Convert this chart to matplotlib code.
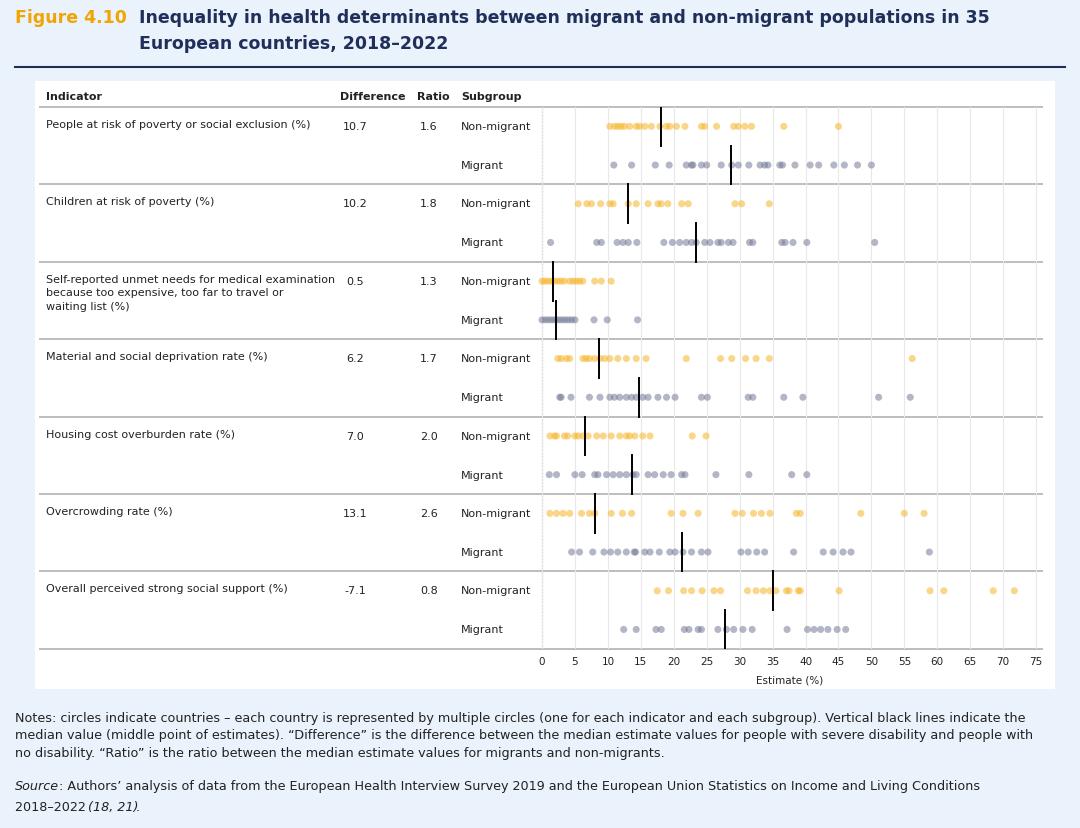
import matplotlib.pyplot as plt
import matplotlib.patches as mpatches
from matplotlib.lines import Line2D

# data
indicators = ['People at risk of poverty or social exclusion (%)',
              'Children at risk of poverty (%)',
              'Self-reported unmet needs for medical examination\nbecause too expensive, too far to travel or\nwaiting list (%)',
              'Material and social deprivation rate (%)',
              'Housing cost overburden rate (%)',
              'Overcrowding rate (%)',
              'Overall perceived strong social support (%)']
differences = ['10.7', '10.2', '0.5', '6.2', '7.0', '13.1', '-7.1']
ratios = ['1.6', '1.8', '1.3', '1.7', '2.0', '2.6', '0.8']

non_migrant = [
    [10.3, 11.0, 11.5, 12.0, 12.5, 13.3, 14.3, 14.8, 15.6, 16.6, 17.9, 18.9, 19.4, 20.4, 21.7, 24.2, 24.7, 26.5, 29.1, 29.8, 30.8, 31.8, 36.7, 45.0],
    [5.5, 6.8, 7.5, 8.9, 10.3, 10.8, 13.1, 14.3, 16.1, 17.6, 18.1, 19.1, 21.2, 22.2, 29.3, 30.3, 34.5],
    [0.0, 0.4, 0.9, 1.4, 1.9, 2.4, 2.9, 3.4, 4.2, 4.7, 5.2, 5.7, 6.2, 8.0, 9.0, 10.5],
    [2.4, 2.9, 3.7, 4.2, 6.2, 6.7, 7.2, 8.0, 8.8, 9.5, 10.3, 11.5, 12.8, 14.3, 15.8, 21.9, 27.1, 28.8, 30.9, 32.5, 34.5, 56.2],
    [1.2, 1.9, 2.2, 3.4, 3.9, 5.0, 5.5, 6.2, 7.0, 8.3, 9.3, 10.5, 11.8, 12.8, 13.3, 14.1, 15.3, 16.4, 22.8, 24.9],
    [1.2, 2.2, 3.2, 4.2, 6.0, 7.2, 8.0, 10.5, 12.2, 13.6, 19.6, 21.4, 23.7, 29.3, 30.4, 32.1, 33.3, 34.6, 38.6, 39.2, 48.4, 55.0, 58.0],
    [17.5, 19.2, 21.5, 22.7, 24.3, 26.1, 27.1, 31.2, 32.5, 33.6, 34.6, 35.5, 37.1, 37.5, 38.9, 39.2, 45.1, 58.9, 61.0, 68.5, 71.7],
]
migrant = [
    [10.9, 13.6, 17.2, 19.3, 21.9, 22.7, 22.9, 24.2, 25.0, 27.2, 28.8, 29.8, 31.4, 33.1, 33.8, 34.3, 36.1, 36.5, 38.4, 40.7, 42.0, 44.3, 45.9, 47.9, 50.0],
    [1.3, 8.3, 9.0, 11.4, 12.3, 13.1, 14.4, 18.5, 19.8, 20.9, 21.9, 22.7, 23.4, 24.7, 25.5, 26.7, 27.2, 28.3, 29.0, 31.5, 32.0, 36.4, 36.9, 38.1, 40.2, 50.5],
    [0.0, 0.5, 1.0, 1.5, 2.0, 2.5, 3.0, 3.5, 4.0, 4.5, 5.0, 7.9, 9.9, 14.5],
    [2.7, 2.9, 4.4, 7.2, 8.8, 10.3, 11.0, 11.8, 12.8, 13.6, 14.3, 15.3, 16.1, 17.6, 18.9, 20.2, 24.2, 25.1, 31.3, 32.0, 36.7, 39.6, 51.1, 55.9],
    [1.1, 2.2, 5.0, 6.1, 8.0, 8.5, 9.8, 10.8, 11.8, 12.8, 13.8, 14.3, 16.1, 17.1, 18.4, 19.6, 21.2, 21.7, 26.4, 31.4, 37.9, 40.2],
    [4.5, 5.7, 7.7, 9.4, 10.4, 11.5, 12.8, 14.0, 14.2, 15.6, 16.4, 17.8, 19.4, 20.2, 21.4, 22.7, 24.2, 25.2, 30.2, 31.3, 32.6, 33.8, 38.2, 42.7, 44.2, 45.7, 46.9, 58.8],
    [12.4, 14.3, 17.3, 18.1, 21.6, 22.3, 23.7, 24.2, 26.7, 28.0, 29.1, 30.5, 31.9, 37.2, 40.3, 41.3, 42.3, 43.4, 44.8, 46.1],
]
median_nm = [18.0, 13.1, 1.6, 8.6, 6.6, 8.1, 35.0]
median_m = [28.7, 23.4, 2.2, 14.7, 13.6, 21.2, 27.8]

W, H = 1080, 829
fig = plt.figure(figsize=(W / 100, H / 100), dpi=100, facecolor='#eaf2fb')

def fx(px): return px / W
def fy(py): return 1 - py / H

# white panel
fig.patches.append(mpatches.Rectangle((fx(35), fy(690)), fx(1055 - 35), (690 - 82) / H,
                                      transform=fig.transFigure, facecolor='white', edgecolor='none', zorder=-1))

# title
fig.text(fx(15), fy(18), 'Figure 4.10', color='#f0a500', fontsize=12.5, fontweight='bold', va='center')
fig.text(fx(139), fy(18), 'Inequality in health determinants between migrant and non-migrant populations in 35',
         color='#1f2f5a', fontsize=12.5, fontweight='bold', va='center')
fig.text(fx(139), fy(44), 'European countries, 2018\u20132022', color='#1f2f5a', fontsize=12.5,
         fontweight='bold', va='center')
fig.add_artist(Line2D([fx(15), fx(1065)], [fy(68), fy(68)], color='#1f2f5a', lw=1.5, transform=fig.transFigure))

# header
hy = fy(97)
for x, t in [(46, 'Indicator'), (340, 'Difference'), (417, 'Ratio'), (461, 'Subgroup')]:
    fig.text(fx(x), hy, t, fontsize=8, fontweight='bold', va='center', color='#222')

top, step = 108, 77.4
for i in range(len(indicators) + 1):
    yy = fy(top + i * step)
    fig.add_artist(Line2D([fx(40), fx(1042)], [yy, yy], color='#bdbdbd', lw=1.4, transform=fig.transFigure))

for i, name in enumerate(indicators):
    y0 = top + i * step
    fig.text(fx(46), fy(y0 + 12), name, fontsize=8, va='top', color='#222', linespacing=1.45)
    fig.text(fx(355), fy(y0 + 19), differences[i], fontsize=8, va='center', ha='center', color='#222')
    fig.text(fx(429), fy(y0 + 19), ratios[i], fontsize=8, va='center', ha='center', color='#222')
    fig.text(fx(461), fy(y0 + 19), 'Non-migrant', fontsize=8, va='center', color='#222')
    fig.text(fx(461), fy(y0 + 58), 'Migrant', fontsize=8, va='center', color='#222')

ax = fig.add_axes([fx(537), fy(top + 7 * step), fx(1042 - 537), 7 * step / H])
ax.set_zorder(2)
ax.patch.set_visible(False)
ax.set_xlim(-0.76, 75.9)
ax.set_ylim(7, 0)
for i in range(len(indicators)):
    ax.scatter(non_migrant[i], [i + 0.25] * len(non_migrant[i]), s=26, color='#f6b52a', alpha=0.55,
               edgecolors='none', zorder=3)
    ax.scatter(migrant[i], [i + 0.75] * len(migrant[i]), s=26, color='#767b98', alpha=0.55,
               edgecolors='none', zorder=3)
    ax.plot([median_nm[i]] * 2, [i, i + 0.5], color='black', lw=1.4, zorder=4)
    ax.plot([median_m[i]] * 2, [i + 0.5, i + 1], color='black', lw=1.4, zorder=4)

ax.set_xticks(range(0, 80, 5))
ax.tick_params(axis='x', labelsize=7.5, length=0, pad=5, colors='#222')
ax.set_yticks([])
ax.grid(axis='x', color='#e8e8e8', lw=0.8, zorder=0)
ax.axvline(0, color='#999', lw=0.9, ls=':', zorder=1)
for s in ax.spines.values():
    s.set_visible(False)
ax.set_xlabel('Estimate (%)', fontsize=7.5, labelpad=6, color='#222')

notes = ('Notes: circles indicate countries \u2013 each country is represented by multiple circles (one for each indicator and each subgroup). Vertical black lines indicate the\n'
         'median value (middle point of estimates). \u201cDifference\u201d is the difference between the median estimate values for people with severe disability and people with\n'
         'no disability. \u201cRatio\u201d is the ratio between the median estimate values for migrants and non-migrants.')
fig.text(fx(15), fy(712), notes, fontsize=9.2, va='top', color='#222', linespacing=1.45)
fig.text(fx(15), fy(780), 'Source', fontsize=9.2, va='top', color='#222', fontstyle='italic')
fig.text(fx(59), fy(780), ': Authors\u2019 analysis of data from the European Health Interview Survey 2019 and the European Union Statistics on Income and Living Conditions',
         fontsize=9.2, va='top', color='#222')
fig.text(fx(15), fy(801), '2018\u20132022 ', fontsize=9.2, va='top', color='#222')
fig.text(fx(88), fy(801), '(18, 21)', fontsize=9.2, va='top', color='#222', fontstyle='italic')
fig.text(fx(136), fy(801), '.', fontsize=9.2, va='top', color='#222')

fig.savefig('out.png', dpi=100, facecolor=fig.get_facecolor())
